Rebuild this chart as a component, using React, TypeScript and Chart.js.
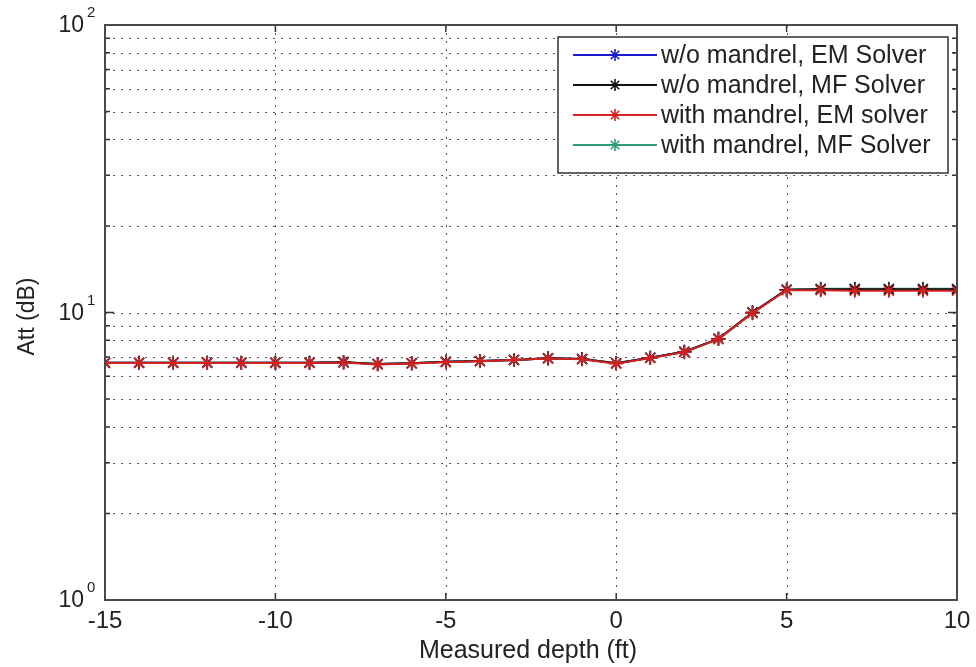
import React, { useEffect, useRef } from "react";
import { Chart, registerables } from "chart.js";

Chart.register(...registerables);

// ---- data ----
const depths = [-15, -14, -13, -12, -11, -10, -9, -8, -7, -6, -5, -4, -3, -2, -1, 0, 1, 2, 3, 4, 5, 6, 7, 8, 9, 10];
const woMandrelEM = [6.69, 6.69, 6.69, 6.69, 6.69, 6.69, 6.69, 6.72, 6.62, 6.66, 6.74, 6.78, 6.84, 6.93, 6.89, 6.66, 6.96, 7.3, 8.1, 10.0, 12.0, 12.05, 12.05, 12.05, 12.05, 12.05];
const woMandrelMF = [6.69, 6.69, 6.69, 6.69, 6.69, 6.69, 6.69, 6.72, 6.62, 6.66, 6.74, 6.78, 6.84, 6.93, 6.89, 6.66, 6.96, 7.3, 8.1, 10.0, 12.0, 12.05, 12.05, 12.05, 12.05, 12.05];
const withMandrelEM = [6.68, 6.68, 6.68, 6.68, 6.68, 6.68, 6.68, 6.7, 6.6, 6.65, 6.72, 6.77, 6.83, 6.92, 6.88, 6.64, 6.95, 7.28, 8.08, 9.95, 11.95, 11.95, 11.9, 11.9, 11.9, 11.9];
const withMandrelMF = [6.69, 6.69, 6.69, 6.69, 6.69, 6.69, 6.69, 6.72, 6.62, 6.66, 6.74, 6.78, 6.84, 6.93, 6.89, 6.66, 6.96, 7.3, 8.1, 10.0, 12.0, 12.1, 12.1, 12.1, 12.1, 12.1];

const seriesLabels = [
  "w/o mandrel, EM Solver",
  "w/o mandrel, MF Solver",
  "with mandrel, EM solver",
  "with mandrel, MF Solver",
];
const seriesColors = ["#1a1ad0", "#111111", "#d42020", "#2f9e7c"];
const seriesOrder = [3, 1, 0, 2];

const xTickValues = [-15, -10, -5, 0, 5, 10];
const yMajorExponents = [0, 1, 2];
const yGridValues = [1, 2, 3, 4, 5, 6, 7, 8, 9, 10, 20, 30, 40, 50, 60, 70, 80, 90, 100];
const xTitle = "Measured depth (ft)";
const yTitle = "Att (dB)";

const FONT = "'Liberation Sans', Arial, Helvetica, sans-serif";
const TEXT = "#222222";

function drawStar(ctx: CanvasRenderingContext2D, x: number, y: number, r: number, color: string) {
  ctx.save();
  ctx.strokeStyle = color;
  ctx.lineWidth = 1.6;
  ctx.beginPath();
  ctx.moveTo(x - r, y);
  ctx.lineTo(x + r, y);
  ctx.moveTo(x, y - r);
  ctx.lineTo(x, y + r);
  const d = r * 0.7071;
  ctx.moveTo(x - d, y - d);
  ctx.lineTo(x + d, y + d);
  ctx.moveTo(x - d, y + d);
  ctx.lineTo(x + d, y - d);
  ctx.stroke();
  ctx.restore();
}

const matlabPlugin = {
  id: "matlabDecor",
  beforeDatasetsDraw(chart: any) {
    const { ctx, chartArea: a, scales } = chart;
    const xs = scales.x;
    const ys = scales.y;
    ctx.save();
    ctx.strokeStyle = "#555555";
    ctx.lineWidth = 1;
    ctx.setLineDash([2, 6]);
    for (const v of xTickValues) {
      const px = Math.round(xs.getPixelForValue(v)) + 0.5;
      ctx.beginPath();
      ctx.moveTo(px, a.top);
      ctx.lineTo(px, a.bottom);
      ctx.stroke();
    }
    for (const v of yGridValues) {
      const py = Math.round(ys.getPixelForValue(v)) + 0.5;
      ctx.beginPath();
      ctx.moveTo(a.left, py);
      ctx.lineTo(a.right, py);
      ctx.stroke();
    }
    ctx.restore();
  },
  afterDatasetsDraw(chart: any) {
    const { ctx, chartArea: a, scales } = chart;
    const xs = scales.x;
    const ys = scales.y;
    ctx.save();
    // inward ticks
    ctx.strokeStyle = "#333333";
    ctx.lineWidth = 1.5;
    ctx.setLineDash([]);
    const tl = 7;
    for (const v of xTickValues) {
      const px = xs.getPixelForValue(v);
      ctx.beginPath();
      ctx.moveTo(px, a.bottom);
      ctx.lineTo(px, a.bottom - tl);
      ctx.moveTo(px, a.top);
      ctx.lineTo(px, a.top + tl);
      ctx.stroke();
    }
    for (const v of yGridValues) {
      const py = ys.getPixelForValue(v);
      const len = [1, 10, 100].includes(v) ? tl + 2 : tl - 2;
      ctx.beginPath();
      ctx.moveTo(a.left, py);
      ctx.lineTo(a.left + len, py);
      ctx.moveTo(a.right, py);
      ctx.lineTo(a.right - len, py);
      ctx.stroke();
    }
    // border
    ctx.strokeStyle = "#4a4a4a";
    ctx.lineWidth = 2;
    ctx.strokeRect(a.left, a.top, a.right - a.left, a.bottom - a.top);

    // x tick labels
    ctx.fillStyle = TEXT;
    ctx.font = `24px ${FONT}`;
    ctx.textAlign = "center";
    ctx.textBaseline = "middle";
    for (const v of xTickValues) {
      ctx.fillText(String(v), xs.getPixelForValue(v), a.bottom + 21);
    }
    // y tick labels 10^n
    for (const e of yMajorExponents) {
      const py = ys.getPixelForValue(Math.pow(10, e));
      ctx.font = `23px ${FONT}`;
      ctx.textAlign = "right";
      ctx.textBaseline = "middle";
      ctx.fillText("10", a.left - 21, py + 1);
      ctx.font = `15px ${FONT}`;
      ctx.textAlign = "left";
      ctx.fillText(String(e), a.left - 18, py - 12);
    }
    // axis titles
    ctx.font = `25px ${FONT}`;
    ctx.textAlign = "center";
    ctx.textBaseline = "middle";
    ctx.fillText(xTitle, (a.left + a.right) / 2 - 3, a.bottom + 51);
    ctx.save();
    ctx.font = `23px ${FONT}`;
    ctx.translate(28, (a.top + a.bottom) / 2 + 4);
    ctx.rotate(-Math.PI / 2);
    ctx.fillText(yTitle, 0, 0);
    ctx.restore();

    // legend
    const lx = 558, ly = 37, lw = 390, lh = 136;
    ctx.fillStyle = "#ffffff";
    ctx.fillRect(lx, ly, lw, lh);
    ctx.strokeStyle = "#333333";
    ctx.lineWidth = 1.5;
    ctx.strokeRect(lx, ly, lw, lh);
    ctx.font = `25px ${FONT}`;
    ctx.textAlign = "left";
    ctx.textBaseline = "middle";
    seriesLabels.forEach((label, i) => {
      const ry = 55 + i * 30;
      ctx.strokeStyle = seriesColors[i];
      ctx.lineWidth = 2;
      ctx.beginPath();
      ctx.moveTo(573, ry);
      ctx.lineTo(657, ry);
      ctx.stroke();
      drawStar(ctx, 615, ry, 6, seriesColors[i]);
      ctx.fillStyle = TEXT;
      ctx.fillText(label, 661, ry + 1);
    });
    ctx.restore();
  },
};

const seriesValues = [woMandrelEM, woMandrelMF, withMandrelEM, withMandrelMF];

export default function App() {
  const canvasRef = useRef<HTMLCanvasElement | null>(null);

  useEffect(() => {
    const canvas = canvasRef.current;
    if (!canvas) return;
    const chart = new Chart(canvas, {
      type: "line",
      data: {
        datasets: seriesValues.map((vals, i) => ({
          label: seriesLabels[i],
          data: depths.map((d, j) => ({ x: d, y: vals[j] })),
          borderColor: seriesColors[i],
          backgroundColor: seriesColors[i],
          borderWidth: 2,
          pointStyle: "star",
          pointRadius: 7,
          pointBorderWidth: 1.6,
          pointBorderColor: seriesColors[i],
          fill: false,
          tension: 0,
          order: seriesOrder[i],
        })),
      },
      options: {
        responsive: false,
        animation: false,
        layout: { padding: { left: 105, top: 25, right: 19, bottom: 67 } },
        plugins: {
          legend: { display: false },
          tooltip: { enabled: false },
        },
        scales: {
          x: {
            type: "linear",
            min: -15,
            max: 10,
            display: false,
          },
          y: {
            type: "logarithmic",
            min: 1,
            max: 100,
            display: false,
          },
        },
      },
      plugins: [matlabPlugin],
    });
    return () => chart.destroy();
  }, []);

  return (
    <div style={{ position: "absolute", left: 0, top: 0, width: 976, height: 667, background: "#ffffff" }}>
      <canvas ref={canvasRef} width={976} height={667} />
    </div>
  );
}
